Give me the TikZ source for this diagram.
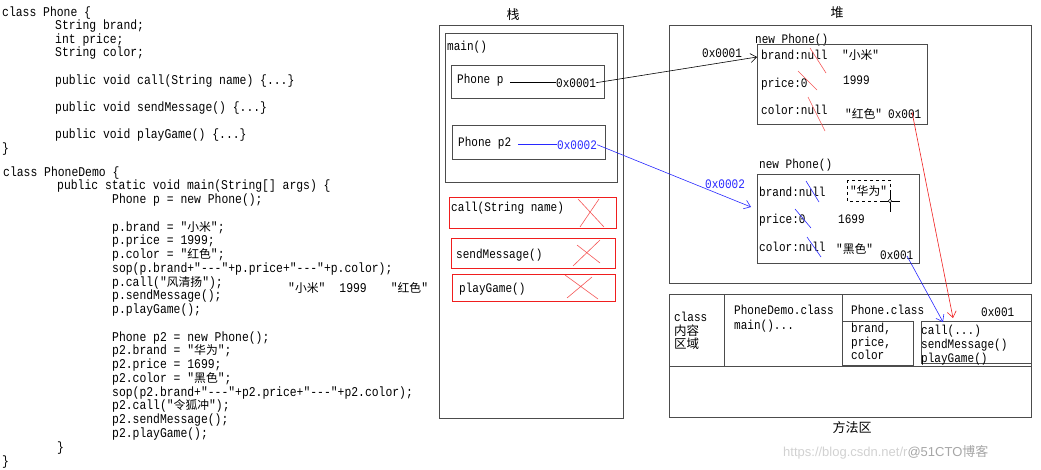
\documentclass[tikz,border=0pt]{standalone}
\usepackage{fontspec}
\setmonofont[FakeStretch=0.85]{Liberation Mono}
\newfontfamily\cjk{Noto Sans CJK SC}
\newfontfamily\wmfont{Liberation Sans}
\usetikzlibrary{arrows.meta}
\newcommand\cdfont{\ttfamily\fontsize{13.4}{14}\selectfont}
\newcommand\hpfont{\ttfamily\fontsize{13}{14}\selectfont}
\newcommand\zh[1]{{\cjk\fontsize{11.8}{13}\selectfont #1}}
\definecolor{myblue}{RGB}{40,40,255}
\definecolor{myred}{RGB}{240,30,30}
\tikzset{
 code/.style={font=\cdfont, anchor=base west, inner sep=0pt},
 hp/.style={font=\hpfont, anchor=base west, inner sep=0pt},
 lbl/.style={font=\cjk\fontsize{13}{15}\selectfont, inner sep=0pt},
 frame/.style={draw=black!70, line width=0.8pt},
 redbox/.style={draw=myred, line width=0.8pt},
 xline/.style={draw=myred!75, line width=0.6pt},
 bline/.style={draw=myblue, line width=0.6pt},
 ptr/.style={line width=0.6pt, -{Straight Barb[length=6pt,width=9pt]}},
}
\newcommand\Ln[4]{\node[code] (#1) at (#2,#3) {#4};}
\begin{document}
\begin{tikzpicture}[x=1pt,y=-1pt]
\useasboundingbox (0,0) rectangle (1041,469);
% ---------- code ----------
\Ln{c1}{2}{16}{class Phone \{}
\Ln{c2}{55}{29.6}{String brand;}
\Ln{c3}{55}{43.2}{int price;}
\Ln{c4}{55}{56.8}{String color;}
\Ln{c5}{55}{84}{public void call(String name) \{...\}}
\Ln{c6}{55}{111.2}{public void sendMessage() \{...\}}
\Ln{c7}{55}{138.4}{public void playGame() \{...\}}
\Ln{c8}{2}{152}{\}}
\Ln{d0}{3}{176}{class PhoneDemo \{}
\Ln{d1}{57}{189.8}{public static void main(String[] args) \{}
\Ln{d2}{112}{203.5}{Phone p = new Phone();}
\Ln{d4}{112}{231}{p.brand = "\zh{小米}";}
\Ln{d5}{112}{244.8}{p.price = 1999;}
\Ln{d6}{112}{258.6}{p.color = "\zh{红色}";}
\Ln{d7}{112}{272.3}{sop(p.brand+"-{}-{}-"+p.price+"-{}-{}-"+p.color);}
\Ln{d8}{112}{286.1}{p.call("\zh{风清扬}");}
\Ln{d9}{112}{299.8}{p.sendMessage();}
\Ln{d10}{112}{313.6}{p.playGame();}
\Ln{d12}{112}{341.1}{Phone p2 = new Phone();}
\Ln{d13}{112}{354.9}{p2.brand = "\zh{华为}";}
\Ln{d14}{112}{368.6}{p2.price = 1699;}
\Ln{d15}{112}{382.4}{p2.color = "\zh{黑色}";}
\Ln{d16}{112}{396.2}{sop(p2.brand+"-{}-{}-"+p2.price+"-{}-{}-"+p2.color);}
\Ln{d17}{112}{409.9}{p2.call("\zh{令狐冲}");}
\Ln{d18}{112}{423.7}{p2.sendMessage();}
\Ln{d19}{112}{437.4}{p2.playGame();}
\Ln{d20}{57}{451.2}{\}}
\Ln{d21}{2}{465}{\}}
\node[code] (out) at (288,292) {"\zh{小米}"\hspace{14pt}1999\hspace{24pt}"\zh{红色}"};
% ---------- stack ----------
\node[lbl] (stk) at (513,15) {栈};
\draw[frame] (439,25) rectangle (623,418);
\draw[frame] (445,33) rectangle (617,182);
\node[hp] (mainl) at (447,50) {main()};
\draw[frame] (451,65) rectangle (604,98);
\node[hp] (pp) at (457,83) {Phone p};
\node[hp] (a1) at (556,87) {0x0001};
\path (a1.west) ++(-46,0) coordinate (pl1);
\draw[line width=0.6pt] (pl1) -- (a1.west);
\draw[frame] (452,125) rectangle (605,159);
\node[hp] (pp2) at (458,146) {Phone p2};
\node[hp,text=myblue] (a2) at (557,149) {0x0002};
\path (a2.west) ++(-39,0) coordinate (pl2);
\draw[bline] (pl2) -- (a2.west);
\draw[redbox] (449,197) rectangle (616,228);
\node[hp] (m1) at (451,211) {call(String name)};
\draw[xline] (578,199) -- (604,227) (580,227) -- (599,199);
\draw[redbox] (451,238) rectangle (615,268);
\node[hp] (m2) at (456,258) {sendMessage()};
\draw[xline] (573,266) -- (600,240) (577,245) -- (600,263);
\draw[redbox] (452,274) rectangle (615,301);
\node[hp] (m3) at (459,292) {playGame()};
\draw[xline] (565,275) -- (598,299) (567,298) -- (592,277);
% ---------- heap ----------
\node[lbl] (hep) at (837,13) {堆};
\draw[frame] (669,25) rectangle (1031,283);
% object 1
\node[hp] (n1) at (755,43) {new Phone()};
\draw[frame] (757,44) rectangle (927,124);
\node[hp] (h1) at (702,57) {0x0001};
\node[hp] (b1) at (761,59) {brand:null};
\node[hp] (v1) at (842,59) {"\zh{小米}"};
\node[hp] (p1) at (761,87) {price:0};
\node[hp] (w1) at (843,84) {1999};
\node[hp] (k1) at (761,114) {color:null};
\node[hp] (u1) at (845,118) {"\zh{红色}"};
\node[hp] (o1a) at (888,118) {0x001};
\draw[xline] (810,48) -- (826,73) (798,71) -- (817,90) (808,97) -- (825,131);
\coordinate (t1) at (757,57);
\draw[ptr] (a1.east) -- (t1);
% object 2
\node[hp] (n2) at (759,168) {new Phone()};
\draw[frame] (757,174) rectangle (919,263);
\node[hp] (b2) at (759,196) {brand:null};
\draw[dashed, line width=0.5pt] (847,180) rectangle (890,201);
\node[font=\hpfont, inner sep=0pt] (v2) at (868.5,191) {"\zh{华为}"};
\draw[line width=0.5pt] (882,201) -- (900,201) (890,193) -- (890,212);
\draw[line width=0.5pt, fill=white] (890,201) circle (1.8);
\node[hp] (p2) at (759,223) {price:0};
\node[hp] (w2) at (838,223) {1699};
\node[hp] (k2) at (759,251) {color:null};
\node[hp] (u2) at (836,253) {"\zh{黑色}"};
\node[hp] (o2a) at (880,259) {0x001};
\draw[bline] (806,181) -- (819,202) (795,209) -- (811,228) (807,237) -- (821,257);
\node[hp,text=myblue] (h2) at (705,188) {0x0002};
\coordinate (t2) at (751,207);
\draw[ptr, draw=myblue] (a2.east) -- (t2);
% ---------- method area ----------
\draw[frame] (669,294) rectangle (1031,417);
\draw[frame] (669,366) -- (1031,366);
\draw[frame] (724,294) -- (724,366);
\draw[frame] (842,294) -- (842,366);
\node[hp] (cc1) at (674,321) {class};
\node[anchor=base west, inner sep=0pt, font=\cjk\fontsize{12.5}{13}\selectfont] (cc2) at (674,335) {内容};
\node[anchor=base west, inner sep=0pt, font=\cjk\fontsize{12.5}{13}\selectfont] (cc3) at (674,348) {区域};
\node[hp] (pd1) at (734,314) {PhoneDemo.class};
\node[hp] (pd2) at (734,329) {main()...};
\node[hp] (pc) at (851,314) {Phone.class};
\node[hp] (pca) at (981,316) {0x001};
\draw[frame] (842,321) rectangle (913,365);
\node[hp] (f1) at (851,332) {brand,};
\node[hp] (f2) at (851,346) {price,};
\node[hp] (f3) at (851,359) {color};
\draw[frame] (921,321) -- (1031,321) (921,321) -- (921,363) -- (1031,363);
\node[hp] (g1) at (921,334) {call(...)};
\node[hp] (g2) at (921,348) {sendMessage()};
\node[hp] (g3) at (921,362) {playGame()};
\coordinate (rs) at (912,112);
\coordinate (rt) at (953,318);
\draw[ptr, draw=myred] (rs) -- (rt);
\coordinate (bs) at (907,256);
\coordinate (bt) at (943,322);
\draw[ptr, draw=myblue] (bs) -- (bt);
\node[lbl] (ma) at (852,428) {方法区};
% ---------- watermark ----------
\node[anchor=west, inner sep=0pt, font=\wmfont\fontsize{13}{15}\selectfont, text=black!18] (wm) at (783,452) {https://blog.csdn.net/r\textcolor{black!35}{@51CTO{\cjk 博客}}};
\end{tikzpicture}
\end{document}
